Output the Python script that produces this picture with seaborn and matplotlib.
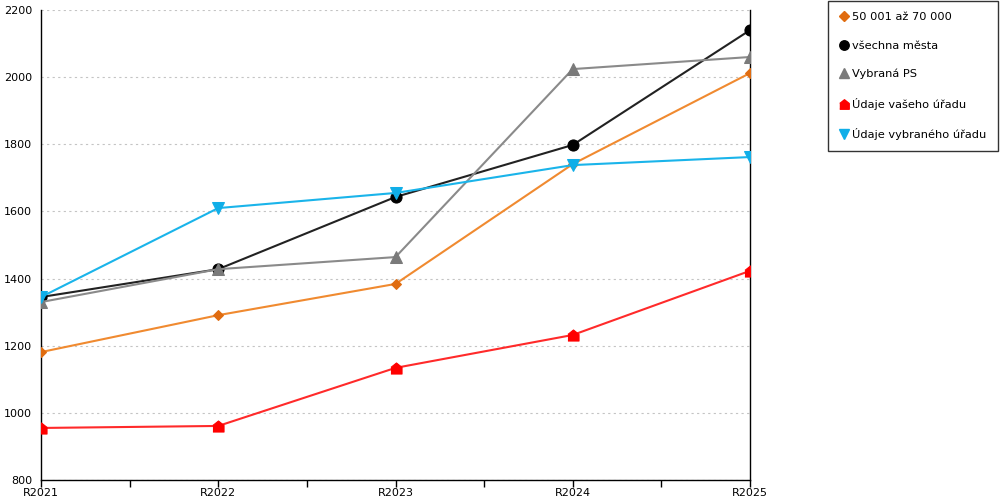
import numpy as np
import pandas as pd
import matplotlib
matplotlib.use('Agg')
import matplotlib.pyplot as plt
import seaborn as sns
from matplotlib.lines import Line2D

years = ['R2021', 'R2022', 'R2023', 'R2024', 'R2025']

mesta_50_70 = [1181, 1291, 1384, 1741, 2012]
vsechna_mesta = [1345, 1428, 1643, 1798, 2140]
vybrana_ps = [1330, 1428, 1464, 2024, 2060]
vas_urad = [955, 961, 1134, 1232, 1423]
vybrany_urad = [1345, 1610, 1655, 1738, 1762]

labels = ['50 001 až 70 000', 'všechna města', 'Vybraná PS',
          'Údaje vašeho úřadu', 'Údaje vybraného úřadu']
house = [(-1, -1), (1, -1), (1, 0.2), (0, 1), (-1, 0.2)]

# label, values, line colour, marker colour, marker, size
series = [
    (labels[0], mesta_50_70, '#f08a30', '#e06c10', 'D', 5.5),
    (labels[1], vsechna_mesta, '#222222', '#000000', 'o', 8),
    (labels[2], vybrana_ps, '#8a8a8a', '#7a7a7a', '^', 8),
    (labels[3], vas_urad, '#ff2a2a', '#ff0000', house, 8),
    (labels[4], vybrany_urad, '#1ab4ea', '#10aee8', 'v', 8),
]

sns.set_style('white')
plt.rcParams['font.family'] = ['DejaVu Sans']
plt.rcParams['text.color'] = 'black'
plt.rcParams['xtick.color'] = 'black'
plt.rcParams['ytick.color'] = 'black'

fig = plt.figure(figsize=(10, 5), dpi=100)
ax = fig.add_axes([0.041, 0.04, 0.709, 0.94])

x = np.arange(len(years))
handles = []
for label, vals, lc, mc, mk, ms in series:
    df = pd.DataFrame({'x': x, 'y': vals})
    sns.lineplot(data=df, x='x', y='y', ax=ax, color=lc, linewidth=1.5,
                 marker=mk, markersize=ms, markerfacecolor=mc,
                 markeredgecolor=mc, zorder=3)
    handles.append(Line2D([], [], linestyle='none', marker=mk,
                          markersize=ms * 0.85,
                          markerfacecolor=mc, markeredgecolor=mc, label=label))

ax.set_xlim(0, len(years) - 1)
ax.set_ylim(800, 2200)
ax.set_yticks(np.arange(800, 2201, 200))
ax.set_xticks(x)
ax.set_xticklabels(years)
ax.set_xticks(x[:-1] + 0.5, minor=True)
ax.set_xlabel('')
ax.set_ylabel('')
ax.grid(axis='y', color='#c4c4c4', linestyle=(0, (2, 3)), linewidth=0.8)
ax.grid(axis='x', visible=False)
ax.set_axisbelow(True)

for side in ['left', 'bottom', 'right']:
    ax.spines[side].set_visible(True)
    ax.spines[side].set_color('black')
    ax.spines[side].set_linewidth(1)
ax.spines['top'].set_visible(False)

ax.tick_params(axis='both', which='both', direction='out', length=5,
               width=1, color='black', labelsize=8, pad=1.5)
ax.tick_params(axis='y', right=False)
ax.tick_params(axis='x', which='major', bottom=True, pad=0.5)
ax.tick_params(axis='x', which='minor', bottom=True, length=5)

leg = fig.legend(handles=handles, loc='upper right',
                 bbox_to_anchor=(0.998, 0.998), frameon=True, fancybox=False,
                 edgecolor='black', fontsize=8.2, labelspacing=1.6,
                 handlelength=0.8, handletextpad=0.3, borderpad=1.0,
                 borderaxespad=0)
leg.get_frame().set_linewidth(1)

fig.savefig('out.png', dpi=100)
